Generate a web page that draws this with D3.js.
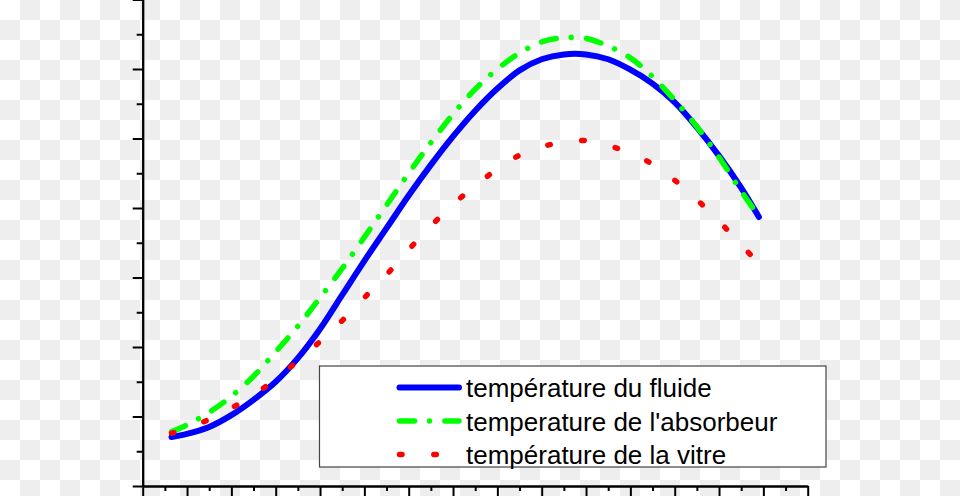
<!DOCTYPE html>
<html>
<head>
<meta charset="utf-8">
<script src="https://cdn.jsdelivr.net/npm/d3@7"></script>
<style>
  html, body { margin: 0; padding: 0; background: #fff; }
  svg { display: block; }
</style>
</head>
<body>
<svg id="chart" width="960" height="496"></svg>
<script>
// ---- data ----
const hours = [6.65, 7, 7.5, 8, 8.5, 9, 9.5, 10, 10.5, 11, 11.5, 12, 12.5, 13, 13.5, 14, 14.5, 15, 15.5, 16, 16.5, 17, 17.5, 18, 18.5, 19, 19.5, 19.9];
const fluide = [27.05, 27.5, 28.5, 30.2, 32.4, 35.0, 38.4, 42.6, 47.5, 52.4, 57.1, 61.8, 66.2, 70.3, 74.0, 77.2, 79.8, 81.4, 82.1, 82.1, 81.4, 79.9, 77.9, 75.2, 71.6, 67.5, 62.9, 58.7];
const absorbeur = [27.8, 28.8, 30.6, 32.9, 35.8, 39.3, 43.0, 47.1, 51.3, 55.8, 60.4, 65.0, 69.4, 73.5, 77.1, 80.0, 82.3, 83.9, 84.5, 84.4, 83.3, 81.6, 78.9, 75.5, 71.7, 67.3, 62.4, 58.8];
const vitreHours = [6.65, 7, 7.5, 8, 8.5, 9, 9.5, 10, 10.5, 11, 11.5, 12, 12.5, 13, 13.5, 14, 14.5, 15, 15.5, 16, 16.5, 17, 17.5, 18, 18.5, 19, 19.5, 19.75];
const vitre = [27.6, 28.3, 29.6, 31.2, 33.1, 35.4, 38.0, 40.8, 43.8, 47.1, 50.4, 54.0, 57.4, 60.5, 63.2, 65.6, 67.6, 68.8, 69.5, 69.7, 69.0, 67.9, 66.3, 64.0, 61.2, 58.1, 54.7, 53.0];

const xMajorTicks = d3.range(6, 21.01, 1);
const xMinorTicks = d3.range(6.5, 21, 1);
const yMajorTicks = d3.range(20, 90.01, 10);
const yMinorTicks = d3.range(25, 90, 10);

const legendLabels = ["température du fluide", "temperature de l'absorbeur", "température de la vitre"];

// ---- drawing ----
const svg = d3.select("#chart");

// checkerboard background
const defs = svg.append("defs");
const pat = defs.append("pattern").attr("id", "checker")
  .attr("patternUnits", "userSpaceOnUse").attr("width", 40).attr("height", 40);
pat.append("rect").attr("width", 40).attr("height", 40).attr("fill", "#ffffff");
pat.append("rect").attr("x", 20).attr("y", 0).attr("width", 20).attr("height", 20).attr("fill", "#eeeeee");
pat.append("rect").attr("x", 0).attr("y", 20).attr("width", 20).attr("height", 20).attr("fill", "#eeeeee");
svg.append("rect").attr("width", 960).attr("height", 496).attr("fill", "url(#checker)");

const x = d3.scaleLinear().domain([6, 21]).range([142.7, 807.7]);
const y = d3.scaleLinear().domain([20, 90]).range([486, -0.5]);

function styleAxis(g) {
  g.selectAll("path.domain").attr("stroke", "#000").attr("stroke-width", 2);
  g.selectAll(".tick line").attr("stroke", "#000").attr("stroke-width", 2);
  g.selectAll(".tick text").remove();
}

// x axis minor + major
svg.append("g").attr("transform", `translate(0,${y(20)})`)
  .call(d3.axisBottom(x).tickValues(xMinorTicks).tickSize(5).tickSizeOuter(0).tickFormat(""))
  .call(styleAxis);
svg.append("g").attr("transform", `translate(0,${y(20)})`)
  .call(d3.axisBottom(x).tickValues(xMajorTicks).tickSize(10).tickSizeOuter(0).tickFormat(""))
  .call(styleAxis);

// y axis minor + major
svg.append("g").attr("transform", `translate(${x(6)},0)`)
  .call(d3.axisLeft(y).tickValues(yMinorTicks).tickSize(6).tickSizeOuter(0).tickFormat(""))
  .call(styleAxis);
svg.append("g").attr("transform", `translate(${x(6)},0)`)
  .call(d3.axisLeft(y).tickValues(yMajorTicks).tickSize(10).tickSizeOuter(0).tickFormat(""))
  .call(styleAxis);

const series = [
  { xs: hours, ys: fluide, color: "#0000ff", dash: null, width: 6 },
  { xs: hours, ys: absorbeur, color: "#00ff00", dash: "15,15,0.01,15.4", width: 5.5 },
  { xs: vitreHours, ys: vitre, color: "#ff0000", dash: "2.5,31.8", width: 5.5 }
];

const line = d3.line().x(d => x(d[0])).y(d => y(d[1])).curve(d3.curveCatmullRom.alpha(0.5));

series.forEach(s => {
  const pts = s.xs.map((h, i) => [h, s.ys[i]]);
  svg.append("path")
    .attr("d", line(pts))
    .attr("fill", "none")
    .attr("stroke", s.color)
    .attr("stroke-width", s.width)
    .attr("stroke-linecap", "round")
    .attr("stroke-linejoin", "round")
    .attr("stroke-dasharray", s.dash);
});

// legend
const lg = svg.append("g");
lg.append("rect").attr("x", 319.5).attr("y", 366).attr("width", 506.5).attr("height", 101)
  .attr("fill", "#fff").attr("stroke", "#444").attr("stroke-width", 1.2);
const rowY = [387.5, 421, 454.5];
series.forEach((s, i) => {
  lg.append("line")
    .attr("x1", 399.5).attr("x2", 459).attr("y1", rowY[i]).attr("y2", rowY[i])
    .attr("stroke", s.color).attr("stroke-width", s.width)
    .attr("stroke-linecap", "round")
    .attr("stroke-dasharray", s.dash);
  lg.append("text")
    .attr("x", 466).attr("y", rowY[i] + 9.5)
    .attr("font-family", "'Liberation Sans', Arial, sans-serif")
    .attr("font-size", 26)
    .attr("fill", "#000")
    .text(legendLabels[i]);
});
</script>
</body>
</html>
